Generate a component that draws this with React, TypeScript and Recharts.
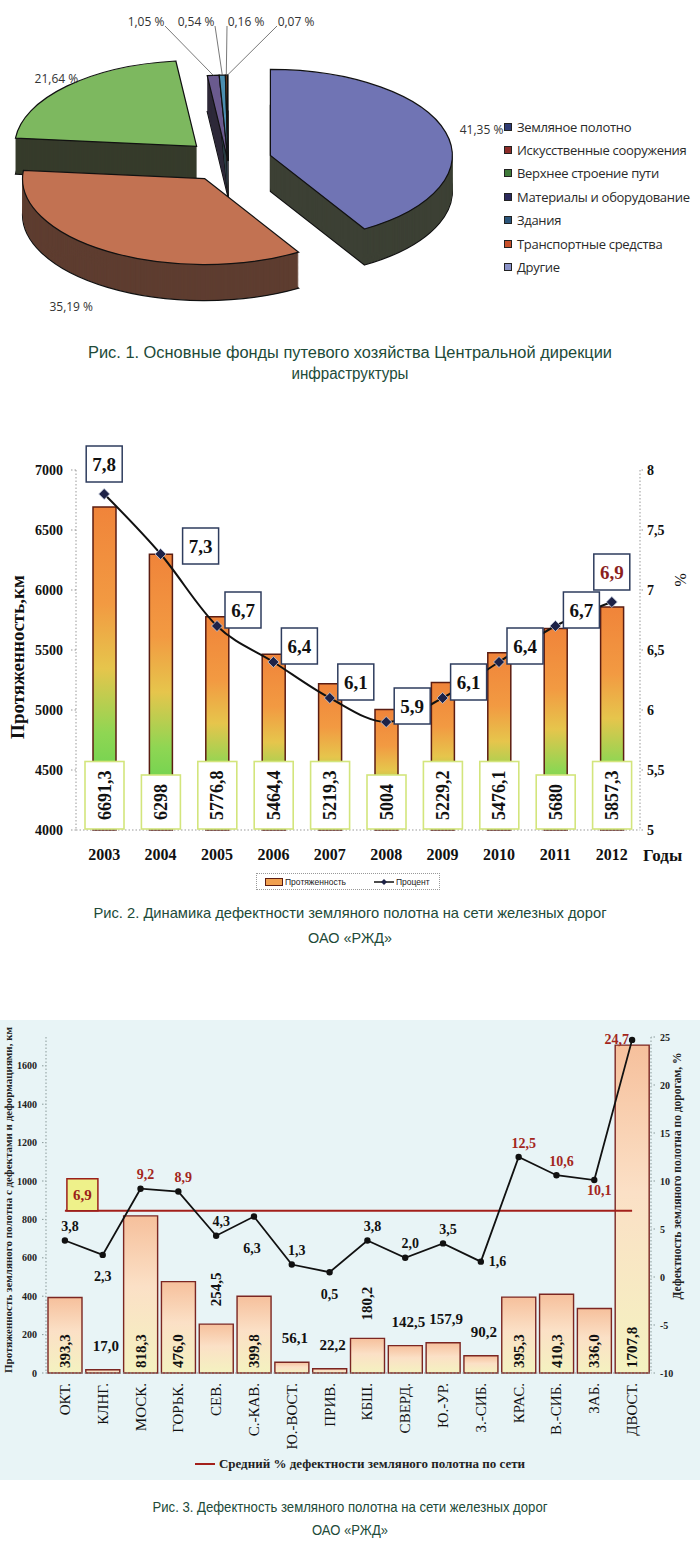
import React from "react";
import {
  Bar,
  Cell,
  ComposedChart,
  LabelList,
  Legend,
  Line,
  Pie,
  PieChart,
  XAxis,
  YAxis,
} from "recharts";

const SERIF = "'Liberation Serif', 'Times New Roman', serif";
const SANS = "'Liberation Sans', Arial, sans-serif";
const CAPTION_COLOR = "#214a38";

// Рис. 1 — основные фонды
const FUND_NAMES = [
  "Земляное полотно",
  "Искусственные сооружения",
  "Верхнее строение пути",
  "Материалы и оборудование",
  "Здания",
  "Транспортные средства",
  "Другие",
];
const FUND_SHARES = [41.35, 35.19, 21.64, 1.05, 0.54, 0.16, 0.07];

// Рис. 2 — динамика по годам
const YEARS = ["2003", "2004", "2005", "2006", "2007", "2008", "2009", "2010", "2011", "2012"];
const LENGTH_KM = [6691.3, 6298, 5776.8, 5464.4, 5219.3, 5004, 5229.2, 5476.1, 5680, 5857.3];
const DEFECT_PCT = [7.8, 7.3, 6.7, 6.4, 6.1, 5.9, 6.1, 6.4, 6.7, 6.9];
const KM_TICKS = [4000, 4500, 5000, 5500, 6000, 6500, 7000];
const PCT_TICKS = [5, 5.5, 6, 6.5, 7, 7.5, 8];

// Рис. 3 — по дорогам
const ROADS = [
  "ОКТ.", "КЛНГ.", "МОСК.", "ГОРЬК.", "СЕВ.", "С.-КАВ.", "Ю.-ВОСТ.", "ПРИВ.",
  "КБШ.", "СВЕРД.", "Ю.-УР.", "З.-СИБ.", "КРАС.", "В.-СИБ.", "ЗАБ.", "ДВОСТ.",
];
const ROAD_KM = [393.3, 17.0, 818.3, 476.0, 254.5, 399.8, 56.1, 22.2, 180.2, 142.5, 157.9, 90.2, 395.3, 410.3, 336.0, 1707.8];
const ROAD_PCT = [3.8, 2.3, 9.2, 8.9, 4.3, 6.3, 1.3, 0.5, 3.8, 2.0, 3.5, 1.6, 12.5, 10.6, 10.1, 24.7];
const NETWORK_AVG = [6.9, 6.9, 6.9, 6.9, 6.9, 6.9, 6.9, 6.9, 6.9, 6.9, 6.9, 6.9, 6.9, 6.9, 6.9, 6.9];
const ROAD_KM_TICKS = [0, 200, 400, 600, 800, 1000, 1200, 1400, 1600];
const ROAD_PCT_TICKS = [-10, -5, 0, 5, 10, 15, 20, 25];

const TOP_COLORS = ["#7074b4", "#c27252", "#7db85f", "#6a5a8e", "#4b8fb0", "#e0803a", "#9aa8d8"];
const SIDE_COLORS = ["#3c4034", "#5e3d30", "#363b2b", "#2f2a3a", "#2a3e45", "#4a3020", "#3d4050"];
const LEGEND_COLORS = ["#2f3c75", "#8c2c28", "#3f7a3a", "#2c2a5c", "#2b557a", "#c8502a", "#8a92c8"];

const comma = (v: number) => String(v).replace(".", ",");
const fmt1 = (v: number) => v.toFixed(1).replace(".", ",");

/* ---------- pie 3D helpers ---------- */
const RX = 182;
const RY = 86;
const DEPTH = 36;
const EXPLODE = 44;
const RAD = Math.PI / 180;

function sliceOrigin(cx: number, cy: number, mid: number, percent: number) {
  const e = percent > 0.05 ? EXPLODE : 0;
  return [cx + e * Math.cos(-mid * RAD), cy + e * (RY / RX) * Math.sin(-mid * RAD)];
}

function slicePath(ox: number, oy: number, a0: number, a1: number) {
  const p = (a: number) => [ox + RX * Math.cos(-a * RAD), oy + RY * Math.sin(-a * RAD)];
  const [x0, y0] = p(a0);
  const [x1, y1] = p(a1);
  const large = Math.abs(a1 - a0) > 180 ? 1 : 0;
  const sweep = a1 < a0 ? 1 : 0;
  return `M${ox},${oy} L${x0},${y0} A${RX},${RY} 0 ${large} ${sweep} ${x1},${y1} Z`;
}

function SliceSide(props: any) {
  const { cx, cy, startAngle, endAngle, midAngle, percent, fill } = props;
  const [ox, oy] = sliceOrigin(cx, cy, midAngle, percent);
  const d = slicePath(ox, oy, startAngle, endAngle);
  const layers = [];
  for (let t = DEPTH; t >= 1; t -= 1) {
    layers.push(
      <path
        key={t}
        d={d}
        transform={`translate(0 ${t})`}
        fill={fill}
        stroke={t === DEPTH ? "#111" : "none"}
        strokeWidth={1.2}
      />
    );
  }
  return <g>{layers}</g>;
}

function SliceTop(props: any) {
  const { cx, cy, startAngle, endAngle, midAngle, percent, fill } = props;
  const [ox, oy] = sliceOrigin(cx, cy, midAngle, percent);
  return <path d={slicePath(ox, oy, startAngle, endAngle)} fill={fill} stroke="#111" strokeWidth={1.2} />;
}

function pieLabel(props: any) {
  const { cx, cy, midAngle, percent, value, index } = props;
  const text = value.toFixed(2).replace(".", ",") + " %";
  const ux = Math.cos(-midAngle * RAD);
  const uy = Math.sin(-midAngle * RAD);
  const style = { fontFamily: "'Open Sans', sans-serif", fontSize: 12, fill: "#333" };
  if (percent > 0.05) {
    const [ox, oy] = sliceOrigin(cx, cy, midAngle, percent);
    const x = ox + RX * ux * (uy > 0 ? 1.15 : 1.08);
    const y = oy + RY * uy * 1.12 + (uy > 0 ? DEPTH + 10 : 0);
    const anchor = ux > 0.3 ? "start" : ux < -0.3 && uy > 0 ? "end" : "middle";
    return (
      <text key={`l${index}`} x={x} y={y} textAnchor={anchor} dominantBaseline="central" {...style}>
        {text}
      </text>
    );
  }
  const lx = 146 + (index - 3) * 50;
  const ly = 21;
  const px = cx + RX * ux;
  const py = cy + RY * uy;
  const sx = lx < px ? lx + 19 : lx - 19;
  return (
    <g key={`l${index}`}>
      <line x1={sx} y1={ly + 5} x2={px} y2={py} stroke="#555" strokeWidth={0.8} />
      <text x={lx} y={ly} textAnchor="middle" dominantBaseline="central" {...style}>
        {text}
      </text>
    </g>
  );
}

function FundLegend({ payload }: any) {
  const names = new Set<string>((payload ?? []).map((p: any) => String(p.value)));
  const items = FUND_NAMES.filter((n) => names.has(n));
  return (
    <div style={{ fontFamily: "'Open Sans', sans-serif", fontSize: 13, color: "#2a2a2a", letterSpacing: -0.3 }}>
      {items.map((name) => (
        <div key={name} style={{ display: "flex", alignItems: "center", height: 23.4 }}>
          <span
            style={{
              display: "inline-block",
              width: 6,
              height: 6,
              background: LEGEND_COLORS[FUND_NAMES.indexOf(name)],
              border: "1px solid #222",
              marginRight: 5,
            }}
          />
          <span>{name}</span>
        </div>
      ))}
    </div>
  );
}

function FundsPie() {
  const data = FUND_NAMES.map((name, i) => ({ name, value: FUND_SHARES[i] }));
  return (
    <div style={{ position: "absolute", left: 0, top: 0 }}>
      <PieChart width={700} height={335}>
        <Pie
          data={data}
          dataKey="value"
          nameKey="name"
          cx={223}
          cy={156}
          outerRadius={RX}
          startAngle={90}
          endAngle={-270}
          stroke="none"
          shape={SliceSide}
          legendType="none"
          isAnimationActive={false}
        >
          {data.map((d, i) => (
            <Cell key={d.name} fill={SIDE_COLORS[i]} />
          ))}
        </Pie>
        <Pie
          data={data}
          dataKey="value"
          nameKey="name"
          cx={223}
          cy={156}
          outerRadius={RX}
          startAngle={90}
          endAngle={-270}
          stroke="none"
          shape={SliceTop}
          label={pieLabel}
          labelLine={false}
          isAnimationActive={false}
        >
          {data.map((d, i) => (
            <Cell key={d.name} fill={TOP_COLORS[i]} />
          ))}
        </Pie>
        <Legend
          layout="vertical"
          align="center"
          verticalAlign="middle"
          content={FundLegend}
          wrapperStyle={{ left: 504, top: 115, width: 196 }}
        />
      </PieChart>
    </div>
  );
}

/* ---------- chart 2 ---------- */
function Diamond(props: any) {
  const { cx, cy, index } = props;
  if (cx == null || cy == null) return null;
  return (
    <path
      key={`d${index}`}
      d={`M${cx},${cy - 5.5} L${cx + 5.5},${cy} L${cx},${cy + 5.5} L${cx - 5.5},${cy} Z`}
      fill="#1d2247"
      stroke="#c8cfe0"
      strokeWidth={0.8}
    />
  );
}

function KmBox(props: any) {
  const { x, y, width, height, value } = props;
  const mx = x + width / 2;
  const bottom = y + height - 1;
  const txt = comma(value);
  const tw = txt.replace(",", "").length * 9 + (txt.includes(",") ? 4.5 : 0);
  const h = tw + 18;
  return (
    <g>
      <rect x={mx - 19.5} y={bottom - h} width={39} height={h} fill="#fff" stroke="#d3e57c" strokeWidth={1.6} />
      <text
        transform={`rotate(-90 ${mx} ${bottom - h / 2})`}
        x={mx}
        y={bottom - h / 2}
        textAnchor="middle"
        dominantBaseline="central"
        fontFamily={SERIF}
        fontWeight={700}
        fontSize={18}
        fill="#111"
      >
        {txt}
      </text>
    </g>
  );
}

function PctBox(props: any) {
  const { x, y, value, index } = props;
  const last = index === YEARS.length - 1;
  const edge = index === 0 || last;
  const bx = edge ? x : x + (index === 1 ? 40 : 26);
  const by = edge ? y - 30 : y - (index === 1 ? 8 : 16);
  return (
    <g>
      <rect x={bx - 18} y={by - 18} width={36} height={36} fill="#fff" stroke="#2e3c5e" strokeWidth={1.5} />
      <text
        x={bx}
        y={by}
        textAnchor="middle"
        dominantBaseline="central"
        fontFamily={SERIF}
        fontWeight={700}
        fontSize={19}
        fill={last ? "#8b1f1f" : "#111"}
      >
        {fmt1(value)}
      </text>
    </g>
  );
}

function DynLegend() {
  return (
    <div
      style={{
        width: 184,
        height: 17,
        border: "1px dotted #999",
        display: "flex",
        alignItems: "center",
        fontFamily: SANS,
        fontSize: 8.5,
        color: "#222",
        boxSizing: "border-box",
        paddingLeft: 8,
      }}
    >
      <span style={{ width: 16, height: 6, background: "#f0a050", border: "1.5px solid #5b1d12", marginRight: 2 }} />
      <span style={{ marginRight: 28 }}>Протяженность</span>
      <svg width={20} height={10} style={{ marginRight: 2 }}>
        <line x1={0} y1={5} x2={20} y2={5} stroke="#111" strokeWidth={1.5} />
        <path d="M10,2 L13,5 L10,8 L7,5 Z" fill="#1d2247" />
      </svg>
      <span>Процент</span>
    </div>
  );
}

const axisDots = { stroke: "#999", strokeDasharray: "1.5 2" };

function rotatedTitle(x: number, y: number, angle: number, text: string, size: number, weight: number, fill = "#111") {
  return () => (
    <text
      x={x}
      y={y}
      transform={`rotate(${angle} ${x} ${y})`}
      textAnchor="middle"
      dominantBaseline="central"
      fontFamily={SERIF}
      fontWeight={weight}
      fontSize={size}
      fill={fill}
    >
      {text}
    </text>
  );
}

function DefectDynamics() {
  const data = YEARS.map((year, i) => ({ year, km: LENGTH_KM[i], pct: DEFECT_PCT[i] }));
  const tickStyle = { fontFamily: SERIF, fontWeight: 700, fontSize: 14, fill: "#111" };
  return (
    <div style={{ position: "absolute", left: 0, top: 430 }}>
      <ComposedChart width={700} height={470} data={data} margin={{ top: 40, right: 16, bottom: 10, left: 16 }}>
        <defs>
          <linearGradient id="kmFill" x1="0" y1="0" x2="0" y2="1">
            <stop offset="0" stopColor="#f0843a" />
            <stop offset="0.3" stopColor="#f29a42" />
            <stop offset="0.5" stopColor="#e6c54c" />
            <stop offset="0.7" stopColor="#8fd653" />
            <stop offset="1" stopColor="#49cf4e" />
          </linearGradient>
        </defs>
        <XAxis
          dataKey="year"
          height={60}
          tickLine={false}
          tickSize={0}
          tickMargin={19}
          axisLine={axisDots}
          tick={{ ...tickStyle, fontSize: 16 }}
          label={{
            value: "Годы",
            content: () => (
              <text x={643} y={431} fontFamily={SERIF} fontWeight={700} fontSize={17} fill="#111">
                Годы
              </text>
            ),
          }}
        />
        <YAxis
          yAxisId="km"
          domain={[4000, 7000]}
          ticks={KM_TICKS}
          width={60}
          tickSize={5}
          tickMargin={8}
          axisLine={axisDots}
          tickLine={axisDots}
          tick={tickStyle}
          label={{ value: "Протяженность,км", content: rotatedTitle(17, 227, -90, "Протяженность,км", 19, 700) }}
        />
        <YAxis
          yAxisId="pct"
          orientation="right"
          domain={[5, 8]}
          ticks={PCT_TICKS}
          width={44}
          tickSize={3}
          tickMargin={4}
          axisLine={axisDots}
          tickLine={axisDots}
          tick={tickStyle}
          tickFormatter={comma}
          label={{ value: "%", content: rotatedTitle(680, 150, 90, "%", 16, 400) }}
        />
        <Bar
          yAxisId="km"
          dataKey="km"
          name="Протяженность"
          barSize={23}
          fill="url(#kmFill)"
          stroke="#5b1d12"
          strokeWidth={1.5}
          isAnimationActive={false}
        >
          <LabelList dataKey="km" content={KmBox} />
        </Bar>
        <Line
          yAxisId="pct"
          dataKey="pct"
          name="Процент"
          type="monotone"
          stroke="#111"
          strokeWidth={2}
          dot={Diamond}
          activeDot={false}
          isAnimationActive={false}
        >
          <LabelList dataKey="pct" content={PctBox} />
        </Line>
        <Legend
          layout="horizontal"
          align="center"
          verticalAlign="middle"
          content={DynLegend}
          wrapperStyle={{ left: 256, top: 443, width: 184 }}
        />
      </ComposedChart>
    </div>
  );
}

/* ---------- chart 3 ---------- */
function RoadTick(props: any) {
  const { x, y, payload } = props;
  return (
    <text
      transform={`rotate(-90 ${x} ${y})`}
      x={x}
      y={y}
      textAnchor="end"
      dominantBaseline="central"
      fontFamily={SERIF}
      fontSize={15}
      fill="#111"
    >
      {payload.value}
    </text>
  );
}

function RoadKmLabel(props: any) {
  const { x, y, width, height, value } = props;
  const mx = x + width / 2;
  const bottom = y + height;
  const txt = fmt1(value);
  const common = { fontFamily: SERIF, fontWeight: 700, fontSize: 15, fill: "#111" };
  if (value >= 300) {
    return (
      <text transform={`rotate(-90 ${mx} ${bottom - 5})`} x={mx} y={bottom - 5} textAnchor="start" dominantBaseline="central" {...common}>
        {txt}
      </text>
    );
  }
  if (value >= 170) {
    return (
      <text transform={`rotate(-90 ${mx} ${y - 18})`} x={mx} y={y - 18} textAnchor="start" dominantBaseline="central" {...common}>
        {txt}
      </text>
    );
  }
  return (
    <text x={mx + 3} y={y - 24} textAnchor="middle" dominantBaseline="central" {...common}>
      {txt}
    </text>
  );
}

function RoadPctLabel(props: any) {
  const { x, y, value, index } = props;
  const place = ["top", "bottom", "top", "top", "top", "low", "top", "bottom", "top", "top", "top", "right", "top", "top", "under", "left"][index];
  let lx = x + 5;
  let ly = y - 14;
  let anchor = "middle";
  if (place === "bottom") {
    lx = x;
    ly = y + 22;
  } else if (place === "low") {
    lx = x - 2;
    ly = y + 32;
  } else if (place === "under") {
    lx = x + 5;
    ly = y + 10;
  } else if (place === "right") {
    lx = x + 8;
    ly = y;
    anchor = "start";
  } else if (place === "left") {
    lx = x - 3;
    ly = y;
    anchor = "end";
  }
  return (
    <text
      x={lx}
      y={ly}
      textAnchor={anchor}
      dominantBaseline="central"
      fontFamily={SERIF}
      fontWeight={700}
      fontSize={14}
      fill={value > NETWORK_AVG[index] ? "#a3261c" : "#111"}
    >
      {fmt1(value)}
    </text>
  );
}

function AvgTag(props: any) {
  const { x, y, value, index } = props;
  if (index !== 0) return null;
  return (
    <g>
      <rect x={x + 2} y={y - 32} width={31} height={32} fill="#eef18a" stroke="#9b1f1a" strokeWidth={1.5} />
      <text
        x={x + 17.5}
        y={y - 16}
        textAnchor="middle"
        dominantBaseline="central"
        fontFamily={SERIF}
        fontWeight={700}
        fontSize={15}
        fill="#9b1f1a"
      >
        {fmt1(value)}
      </text>
    </g>
  );
}

function RoadLegend() {
  return (
    <div
      style={{
        display: "flex",
        justifyContent: "center",
        alignItems: "center",
        fontFamily: SERIF,
        fontWeight: 700,
        fontSize: 13,
        color: "#222",
      }}
    >
      <span style={{ width: 20, height: 2.5, background: "#a3201b", marginRight: 4 }} />
      Средний % дефектности земляного полотна по сети
    </div>
  );
}

function RoadDefects() {
  const data = ROADS.map((road, i) => ({ road, km: ROAD_KM[i], pct: ROAD_PCT[i], avg: NETWORK_AVG[i] }));
  const tickStyle = { fontFamily: SERIF, fontWeight: 700, fontSize: 10, fill: "#222" };
  const dots = { stroke: "#8a9a9a", strokeDasharray: "1.5 2" };
  return (
    <div style={{ position: "absolute", left: 0, top: 1020, width: 700, height: 460, background: "#e8f4f6" }}>
      <ComposedChart width={700} height={460} data={data} margin={{ top: 17, right: 9, bottom: 7, left: 6 }}>
        <defs>
          <linearGradient id="roadFill" x1="0" y1="0" x2="0" y2="1">
            <stop offset="0" stopColor="#f6c09c" />
            <stop offset="0.45" stopColor="#fbe0c6" />
            <stop offset="1" stopColor="#f4f2c0" />
          </linearGradient>
        </defs>
        <XAxis
          dataKey="road"
          height={100}
          interval={0}
          tickLine={false}
          tickSize={0}
          tickMargin={10}
          axisLine={dots}
          tick={RoadTick}
        />
        <YAxis
          yAxisId="km"
          domain={[0, 1750]}
          ticks={ROAD_KM_TICKS}
          width={40}
          tickSize={4}
          tickMargin={5}
          axisLine={dots}
          tickLine={dots}
          tick={tickStyle}
          label={{
            value: "km",
            content: rotatedTitle(8, 180, -90, "Протяженность земляного полотна с дефектами и деформациями, км", 11, 700, "#222"),
          }}
        />
        <YAxis
          yAxisId="pct"
          orientation="right"
          domain={[-10, 25]}
          ticks={ROAD_PCT_TICKS}
          width={40}
          tickSize={4}
          tickMargin={5}
          axisLine={dots}
          tickLine={dots}
          tick={tickStyle}
          label={{
            value: "pct",
            content: rotatedTitle(677, 156, -90, "Дефектность земляного полотна по дорогам, %", 11.5, 700, "#222"),
          }}
        />
        <Bar
          yAxisId="km"
          dataKey="km"
          barSize={34}
          fill="url(#roadFill)"
          stroke="#7b2622"
          strokeWidth={1.4}
          legendType="none"
          isAnimationActive={false}
        >
          <LabelList dataKey="km" content={RoadKmLabel} />
        </Bar>
        <Line
          yAxisId="pct"
          dataKey="avg"
          stroke="#a3201b"
          strokeWidth={2.2}
          dot={false}
          activeDot={false}
          isAnimationActive={false}
        >
          <LabelList dataKey="avg" content={AvgTag} />
        </Line>
        <Line
          yAxisId="pct"
          dataKey="pct"
          type="linear"
          stroke="#111"
          strokeWidth={1.8}
          dot={{ r: 2.3, fill: "#111", stroke: "#111" }}
          activeDot={false}
          isAnimationActive={false}
        >
          <LabelList dataKey="pct" content={RoadPctLabel} />
        </Line>
        <Legend
          layout="horizontal"
          align="center"
          verticalAlign="middle"
          content={RoadLegend}
          wrapperStyle={{ left: 10, top: 436, width: 700 }}
        />
      </ComposedChart>
    </div>
  );
}

// Подписи к рисункам: каждая строка растянута на ширину, как в оригинале
function Caption({ top, lines, size }: { top: number; lines: { text: string; y: number; w: number }[]; size: number }) {
  return (
    <svg style={{ position: "absolute", left: 0, top }} width={700} height={60}>
      {lines.map((l) => (
        <text
          key={l.text}
          x={350}
          y={l.y}
          textAnchor="middle"
          dominantBaseline="central"
          textLength={l.w}
          lengthAdjust="spacingAndGlyphs"
          fontFamily={SANS}
          fontSize={size}
          fill={CAPTION_COLOR}
        >
          {l.text}
        </text>
      ))}
    </svg>
  );
}

export default function App() {
  return (
    <div style={{ position: "absolute", left: 0, top: 0, width: 700, height: 1547, background: "#fff", overflow: "hidden" }}>
      <FundsPie />
      <Caption
        top={335}
        size={16}
        lines={[
          { text: "Рис. 1. Основные фонды путевого хозяйства Центральной дирекции", y: 17, w: 524 },
          { text: "инфраструктуры", y: 38, w: 117 },
        ]}
      />
      <DefectDynamics />
      <Caption
        top={895}
        size={15}
        lines={[
          { text: "Рис. 2. Динамика дефектности земляного полотна на сети железных дорог", y: 17, w: 513 },
          { text: "ОАО «РЖД»", y: 42, w: 84 },
        ]}
      />
      <RoadDefects />
      <Caption
        top={1490}
        size={14.5}
        lines={[
          { text: "Рис. 3. Дефектность земляного полотна на сети железных дорог", y: 17, w: 395 },
          { text: "ОАО «РЖД»", y: 40, w: 76 },
        ]}
      />
    </div>
  );
}
